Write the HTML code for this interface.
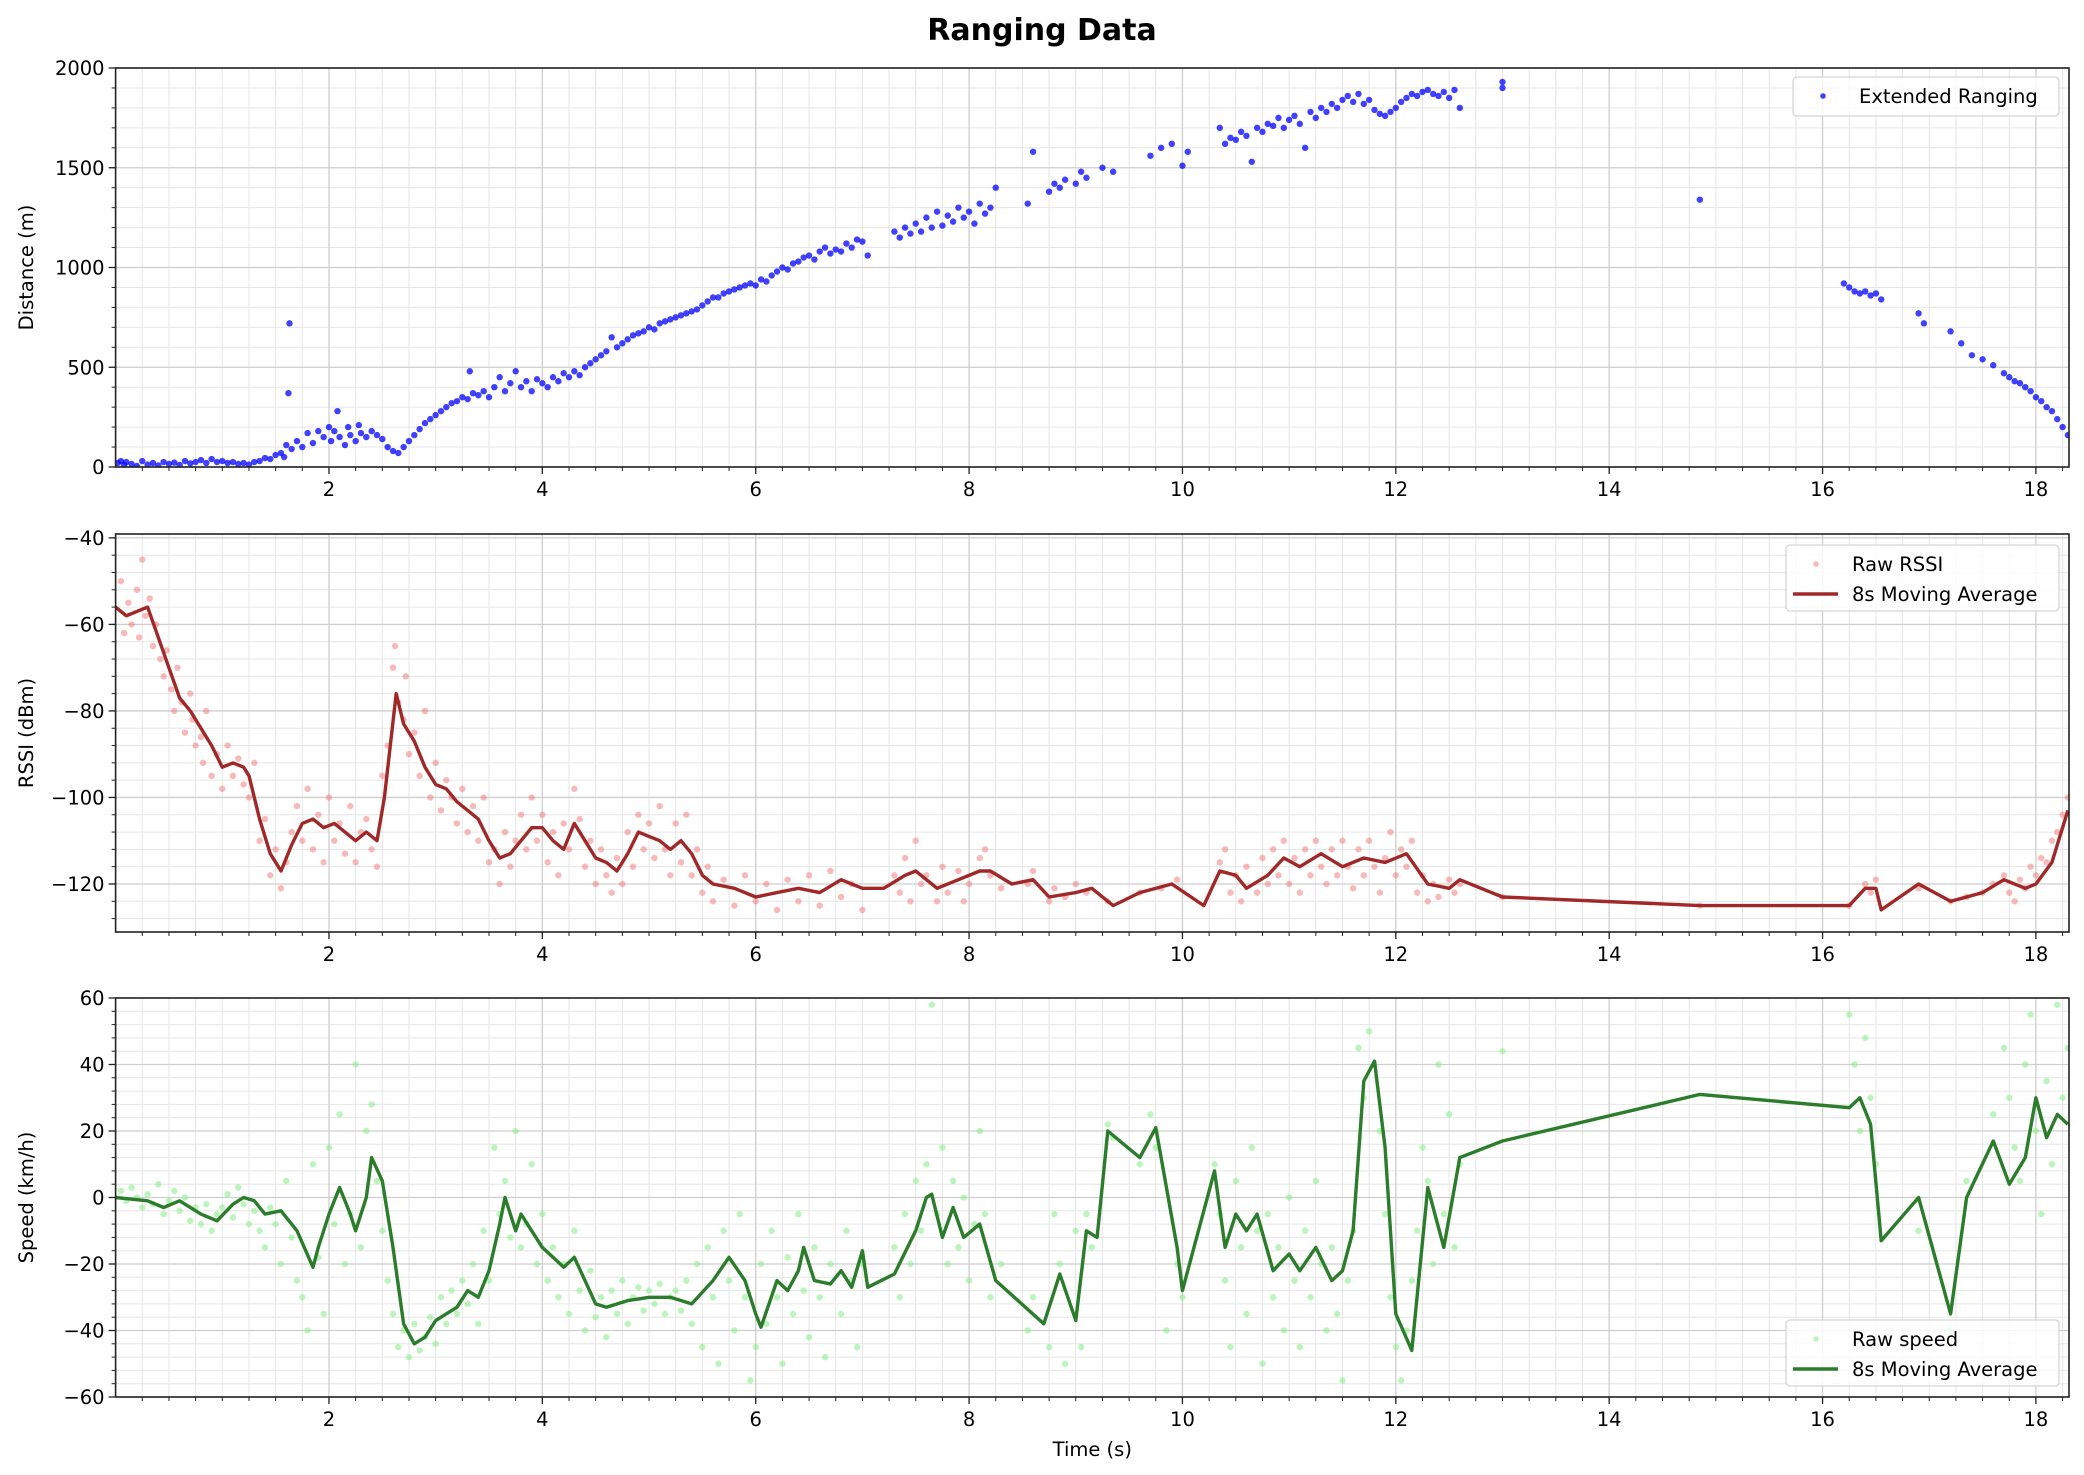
<!DOCTYPE html>
<html><head><meta charset="utf-8"><style>
html,body{margin:0;padding:0;background:#fff;}
svg{display:block;font-family:"DejaVu Sans","Liberation Sans",sans-serif;}
</style></head><body>
<svg id="fig" width="2084" height="1475" viewBox="0 0 2084 1475">
<text x="1042" y="40" text-anchor="middle" font-size="30" font-weight="bold">Ranging Data</text>
</svg>
<script>
// ---- data ----
const distT=[0.02,0.05,0.08,0.1,0.15,0.2,0.25,0.3,0.35,0.4,0.45,0.5,0.55,0.6,0.65,0.7,0.75,0.8,0.85,0.9,0.95,1.0,1.05,1.1,1.15,1.2,1.25,1.3,1.35,1.4,1.45,1.5,1.55,1.58,1.6,1.62,1.63,1.65,1.7,1.75,1.8,1.85,1.9,1.95,2.0,2.02,2.05,2.08,2.1,2.15,2.18,2.2,2.25,2.28,2.3,2.35,2.4,2.45,2.5,2.55,2.6,2.65,2.7,2.75,2.8,2.85,2.9,2.95,3.0,3.05,3.1,3.15,3.2,3.25,3.3,3.32,3.35,3.4,3.45,3.5,3.55,3.6,3.65,3.7,3.75,3.8,3.85,3.9,3.95,4.0,4.05,4.1,4.15,4.2,4.25,4.3,4.35,4.4,4.45,4.5,4.55,4.6,4.65,4.7,4.75,4.8,4.85,4.9,4.95,5.0,5.05,5.1,5.15,5.2,5.25,5.3,5.35,5.4,5.45,5.5,5.55,5.6,5.65,5.7,5.75,5.8,5.85,5.9,5.95,6.0,6.05,6.1,6.15,6.2,6.25,6.3,6.35,6.4,6.45,6.5,6.55,6.6,6.65,6.7,6.75,6.8,6.85,6.9,6.95,7.0,7.05,7.3,7.35,7.4,7.45,7.5,7.55,7.6,7.65,7.7,7.75,7.8,7.85,7.9,7.95,8.0,8.05,8.1,8.15,8.2,8.25,8.55,8.6,8.75,8.8,8.85,8.9,9.0,9.05,9.1,9.25,9.35,9.7,9.8,9.9,10.0,10.05,10.35,10.4,10.45,10.5,10.55,10.6,10.65,10.7,10.75,10.8,10.85,10.9,10.95,11.0,11.05,11.1,11.15,11.2,11.25,11.3,11.35,11.4,11.45,11.5,11.55,11.6,11.65,11.7,11.75,11.8,11.85,11.9,11.95,12.0,12.05,12.1,12.15,12.2,12.25,12.3,12.35,12.4,12.45,12.5,12.55,12.6,13.0,13.0,14.85,16.2,16.25,16.3,16.35,16.4,16.45,16.5,16.55,16.9,16.95,17.2,17.3,17.4,17.5,17.6,17.7,17.75,17.8,17.85,17.9,17.95,18.0,18.05,18.1,18.15,18.2,18.25,18.3];
const distV=[20,30,10,25,15,5,30,12,20,8,25,15,22,10,30,18,25,35,20,40,25,30,20,25,15,20,12,25,30,45,40,60,70,50,110,370,720,90,130,100,170,120,180,150,200,130,180,280,150,110,200,160,130,210,170,150,180,160,140,100,80,70,100,130,160,190,220,240,260,280,300,320,330,350,340,480,370,360,380,350,400,450,380,420,480,400,430,380,440,420,400,450,430,470,450,480,460,500,520,540,560,580,650,600,620,640,660,670,680,700,690,720,730,740,750,760,770,780,790,810,830,850,850,870,880,890,900,910,920,910,940,930,960,980,1000,990,1020,1030,1050,1060,1040,1080,1100,1070,1090,1080,1120,1100,1140,1130,1060,1180,1150,1200,1170,1220,1180,1250,1200,1280,1210,1260,1230,1300,1250,1280,1220,1320,1270,1300,1400,1320,1580,1380,1420,1400,1440,1420,1480,1450,1500,1480,1560,1600,1620,1510,1580,1700,1620,1650,1640,1680,1660,1530,1700,1680,1720,1710,1750,1700,1740,1760,1720,1600,1780,1750,1800,1780,1820,1800,1840,1860,1830,1870,1820,1840,1790,1770,1760,1780,1800,1830,1850,1870,1860,1880,1890,1870,1860,1880,1850,1890,1800,1900,1930,1340,920,900,880,870,880,860,870,840,770,720,680,620,560,540,510,470,450,430,420,400,380,350,330,300,280,240,200,160];

const rssiT=[0.05,0.08,0.12,0.15,0.2,0.22,0.25,0.28,0.32,0.35,0.38,0.42,0.45,0.48,0.52,0.55,0.58,0.62,0.65,0.7,0.72,0.75,0.8,0.82,0.85,0.9,0.95,1.0,1.05,1.1,1.15,1.2,1.25,1.3,1.35,1.4,1.45,1.5,1.55,1.6,1.65,1.7,1.75,1.8,1.85,1.9,1.95,2.0,2.05,2.1,2.15,2.2,2.25,2.3,2.35,2.4,2.45,2.5,2.55,2.6,2.62,2.65,2.7,2.72,2.75,2.8,2.85,2.9,2.95,3.0,3.05,3.1,3.15,3.2,3.25,3.3,3.35,3.4,3.45,3.5,3.55,3.6,3.65,3.7,3.75,3.8,3.85,3.9,3.95,4.0,4.05,4.1,4.15,4.2,4.25,4.3,4.35,4.4,4.45,4.5,4.55,4.6,4.65,4.7,4.75,4.8,4.85,4.9,4.95,5.0,5.05,5.1,5.15,5.2,5.25,5.3,5.35,5.4,5.45,5.5,5.55,5.6,5.7,5.8,5.9,6.0,6.1,6.2,6.3,6.4,6.5,6.6,6.7,6.8,6.9,7.0,7.3,7.35,7.4,7.45,7.5,7.55,7.6,7.7,7.75,7.8,7.9,7.95,8.0,8.1,8.15,8.2,8.3,8.55,8.6,8.75,8.8,8.9,9.0,9.1,9.3,9.6,9.8,9.95,10.35,10.4,10.45,10.5,10.55,10.6,10.7,10.75,10.8,10.85,10.9,10.95,11.0,11.05,11.1,11.15,11.2,11.25,11.3,11.35,11.4,11.45,11.5,11.55,11.6,11.65,11.7,11.75,11.8,11.85,11.9,11.95,12.0,12.05,12.1,12.15,12.2,12.25,12.3,12.35,12.4,12.5,12.55,12.6,13.0,14.85,16.25,16.4,16.45,16.5,16.9,17.2,17.35,17.5,17.6,17.7,17.75,17.8,17.85,17.9,17.95,18.0,18.05,18.1,18.15,18.2,18.25,18.3];
const rssiV=[-50,-62,-55,-60,-52,-63,-45,-58,-54,-65,-60,-68,-72,-66,-75,-80,-70,-78,-85,-76,-82,-88,-86,-92,-80,-95,-90,-98,-88,-95,-91,-97,-100,-92,-110,-105,-118,-112,-121,-115,-108,-102,-110,-98,-112,-104,-115,-100,-110,-106,-113,-102,-115,-108,-105,-112,-116,-95,-88,-70,-65,-78,-82,-72,-90,-85,-95,-80,-100,-92,-103,-96,-100,-106,-98,-108,-102,-110,-100,-115,-112,-120,-108,-116,-110,-104,-112,-100,-110,-104,-115,-108,-118,-106,-112,-98,-105,-116,-110,-120,-112,-118,-122,-114,-120,-108,-116,-104,-112,-106,-114,-102,-112,-118,-106,-115,-104,-118,-112,-122,-116,-124,-119,-125,-118,-124,-120,-126,-119,-124,-118,-125,-117,-123,-120,-126,-118,-122,-114,-124,-110,-120,-118,-124,-116,-122,-117,-124,-120,-114,-112,-118,-121,-120,-117,-124,-121,-123,-120,-122,-124,-122,-121,-119,-115,-112,-122,-118,-124,-116,-122,-114,-120,-112,-118,-110,-120,-114,-122,-112,-118,-110,-116,-120,-112,-118,-110,-116,-121,-112,-118,-110,-116,-122,-114,-108,-118,-112,-116,-110,-122,-118,-124,-120,-123,-119,-122,-120,-123,-125,-125,-120,-122,-119,-121,-124,-123,-122,-120,-118,-122,-124,-119,-121,-116,-118,-114,-115,-110,-108,-104,-100];
const rssiMaT=[0,0.1,0.2,0.3,0.4,0.5,0.6,0.7,0.8,0.9,1.0,1.1,1.2,1.25,1.35,1.45,1.55,1.65,1.75,1.85,1.95,2.05,2.15,2.25,2.35,2.45,2.52,2.63,2.7,2.8,2.9,3.0,3.1,3.2,3.3,3.4,3.5,3.6,3.7,3.8,3.9,4.0,4.1,4.2,4.3,4.4,4.5,4.6,4.7,4.8,4.9,5.0,5.1,5.2,5.3,5.4,5.5,5.6,5.8,6.0,6.2,6.4,6.6,6.8,7.0,7.2,7.4,7.5,7.7,7.9,8.1,8.2,8.4,8.6,8.75,9.0,9.15,9.35,9.6,9.9,10.2,10.35,10.5,10.6,10.8,10.95,11.1,11.3,11.5,11.7,11.9,12.1,12.3,12.5,12.6,13.0,14.85,16.25,16.4,16.5,16.55,16.9,17.2,17.5,17.7,17.9,18.0,18.15,18.3];
const rssiMaV=[-56,-58,-57,-56,-63,-70,-77,-80,-84,-88,-93,-92,-93,-95,-105,-113,-117,-111,-106,-105,-107,-106,-108,-110,-108,-110,-100,-76,-83,-87,-93,-97,-98,-101,-103,-105,-110,-114,-113,-110,-107,-107,-110,-112,-106,-110,-114,-115,-117,-113,-108,-109,-110,-112,-110,-113,-118,-120,-121,-123,-122,-121,-122,-119,-121,-121,-118,-117,-121,-119,-117,-117,-120,-119,-123,-122,-121,-125,-122,-120,-125,-117,-118,-121,-118,-114,-116,-113,-116,-114,-115,-113,-120,-121,-119,-123,-125,-125,-121,-121,-126,-120,-124,-122,-119,-121,-120,-115,-103];

const spdT=[0.05,0.1,0.15,0.2,0.25,0.3,0.35,0.4,0.45,0.5,0.55,0.6,0.65,0.7,0.75,0.8,0.85,0.9,0.95,1.0,1.05,1.1,1.15,1.2,1.25,1.3,1.35,1.4,1.45,1.5,1.55,1.6,1.65,1.7,1.75,1.8,1.85,1.9,1.95,2.0,2.05,2.1,2.15,2.2,2.25,2.3,2.35,2.4,2.45,2.5,2.55,2.6,2.65,2.7,2.75,2.8,2.85,2.9,2.95,3.0,3.05,3.1,3.15,3.2,3.25,3.3,3.35,3.4,3.45,3.5,3.55,3.6,3.65,3.7,3.75,3.8,3.85,3.9,3.95,4.0,4.05,4.1,4.15,4.2,4.25,4.3,4.35,4.4,4.45,4.5,4.55,4.6,4.65,4.7,4.75,4.8,4.85,4.9,4.95,5.0,5.05,5.1,5.15,5.2,5.25,5.3,5.35,5.4,5.45,5.5,5.55,5.6,5.65,5.7,5.75,5.8,5.85,5.9,5.95,6.0,6.05,6.1,6.15,6.2,6.25,6.3,6.35,6.4,6.45,6.5,6.55,6.6,6.65,6.7,6.8,6.85,6.9,6.95,7.0,7.3,7.35,7.4,7.45,7.5,7.55,7.6,7.65,7.7,7.75,7.8,7.85,7.9,7.95,8.0,8.05,8.1,8.15,8.2,8.3,8.55,8.6,8.75,8.8,8.85,8.9,9.0,9.05,9.1,9.15,9.3,9.35,9.6,9.7,9.75,9.85,9.95,10.0,10.3,10.35,10.4,10.45,10.5,10.55,10.6,10.65,10.7,10.75,10.8,10.85,10.9,10.95,11.0,11.05,11.1,11.15,11.2,11.25,11.3,11.35,11.4,11.45,11.5,11.55,11.6,11.65,11.7,11.75,11.8,11.85,11.9,11.95,12.0,12.05,12.1,12.15,12.2,12.25,12.3,12.35,12.4,12.45,12.5,12.55,12.6,13.0,16.25,16.3,16.35,16.4,16.45,16.5,16.9,17.2,17.35,17.6,17.7,17.75,17.8,17.85,17.9,17.95,18.0,18.05,18.1,18.15,18.2,18.25,18.3];
const spdV=[2,-1,3,0,-3,1,-2,4,-5,-1,2,-4,0,-7,-3,-8,-2,-10,-5,-3,1,-6,3,-2,-8,-4,-10,-15,-3,-8,-20,5,-12,-25,-30,-40,10,-18,-35,15,-8,25,-20,-5,40,-15,20,28,5,-10,-25,-35,-45,-40,-48,-38,-46,-42,-36,-44,-30,-38,-28,-35,-25,-32,-20,-38,-10,-25,15,-5,5,-12,20,-15,-8,10,-20,-5,-25,-15,-30,-20,-35,-10,-28,-40,-22,-36,-30,-42,-28,-35,-25,-38,-30,-27,-34,-28,-32,-26,-35,-30,-28,-34,-25,-38,-20,-45,-15,-30,-50,-10,-25,-40,-5,-30,-55,-45,-20,-38,-10,-30,-50,-18,-35,-5,-28,-42,-15,-30,-48,-20,-35,-10,-25,-45,-20,-15,-30,-5,-20,5,-10,10,58,-5,15,-20,5,-15,0,-25,-8,20,-5,-30,-20,-40,-30,-45,-5,-20,-50,-10,-45,-5,-15,22,18,10,25,15,-40,-20,-30,10,-5,-25,-45,5,-15,-35,15,-10,-50,-5,-30,-15,-40,0,-25,-45,-10,-30,5,-20,-40,-15,-35,-55,-25,-10,45,30,50,40,20,-5,-30,-45,-55,-40,-25,-10,15,5,-20,40,-5,25,-15,10,44,55,40,20,48,30,10,-10,-40,5,25,45,30,15,5,40,55,20,-5,35,10,58,30,45];
const spdMaT=[0,0.3,0.45,0.6,0.8,0.95,1.1,1.2,1.3,1.4,1.55,1.7,1.85,1.9,2.0,2.1,2.2,2.25,2.35,2.4,2.5,2.6,2.7,2.8,2.9,3.0,3.2,3.3,3.4,3.5,3.6,3.65,3.75,3.8,3.9,4.0,4.1,4.2,4.3,4.4,4.5,4.6,4.8,5.0,5.2,5.4,5.6,5.75,5.9,6.0,6.05,6.2,6.3,6.4,6.45,6.55,6.7,6.8,6.9,7.0,7.05,7.3,7.5,7.6,7.65,7.75,7.85,7.95,8.1,8.25,8.7,8.85,9.0,9.1,9.2,9.3,9.6,9.75,9.95,10.0,10.3,10.4,10.5,10.6,10.7,10.85,11.0,11.1,11.25,11.4,11.5,11.6,11.7,11.8,11.9,12.0,12.15,12.3,12.45,12.6,13.0,14.85,16.25,16.35,16.45,16.55,16.9,17.2,17.35,17.6,17.75,17.9,18.0,18.1,18.2,18.3];
const spdMaV=[0,-1,-3,-1,-5,-7,-2,0,-1,-5,-4,-10,-21,-15,-5,3,-5,-10,0,12,5,-15,-38,-44,-42,-37,-33,-28,-30,-22,-8,0,-10,-5,-10,-15,-18,-21,-18,-25,-32,-33,-31,-30,-30,-32,-25,-18,-25,-35,-39,-25,-28,-22,-15,-25,-26,-22,-27,-16,-27,-23,-10,0,1,-12,-3,-12,-8,-25,-38,-23,-37,-10,-12,20,12,21,-15,-28,8,-15,-5,-10,-5,-22,-17,-22,-15,-25,-22,-10,35,41,15,-35,-46,3,-15,12,17,31,27,30,22,-13,0,-35,0,17,4,12,30,18,25,22];

const xTicks=[2,4,6,8,10,12,14,16,18];
const distTicks=[0,500,1000,1500,2000];
const rssiTicks=[-40,-60,-80,-100,-120];
const spdTicks=[-60,-40,-20,0,20,40,60];

// ---- layout ----
const NS='http://www.w3.org/2000/svg';
const svg=document.getElementById('fig');
const L=115.6,R=2069,TMAX=18.31;
const sx=t=>L+(t/TMAX)*(R-L);
const fmt=v=>v<0?'\u2212'+Math.abs(v):String(v);
function mk(tag,attrs,parent){const e=document.createElementNS(NS,tag);for(const k in attrs)e.setAttribute(k,attrs[k]);(parent||svg).appendChild(e);return e;}

function panel(name,top,bot,ymin,ymax,ticks,minorStep,label,showXLabel){
  const g=mk('g',{});
  
  
  const sy=v=>bot-(v-ymin)/(ymax-ymin)*(bot-top);
  for(let t=0.25;t<TMAX;t+=0.25){const x=sx(t);mk('line',{x1:x,x2:x,y1:top,y2:bot,stroke:'#e6e6e6','stroke-width':1},g);}
  const y0=Math.ceil(ymin/minorStep)*minorStep;
  for(let v=y0;v<=ymax;v+=minorStep){const y=sy(v);mk('line',{x1:L,x2:R,y1:y,y2:y,stroke:'#e6e6e6','stroke-width':1},g);}
  xTicks.forEach(t=>{const x=sx(t);mk('line',{x1:x,x2:x,y1:top,y2:bot,stroke:'#cfcfcf','stroke-width':1.3},g);});
  ticks.forEach(v=>{const y=sy(v);mk('line',{x1:L,x2:R,y1:y,y2:y,stroke:'#cfcfcf','stroke-width':1.3},g);});
  for(let t=0.25;t<TMAX;t+=0.25){const x=sx(t);mk('line',{x1:x,x2:x,y1:bot,y2:bot+4,stroke:'#222','stroke-width':1},g);}
  for(let v=y0;v<=ymax;v+=minorStep){const y=sy(v);mk('line',{x1:L-4,x2:L,y1:y,y2:y,stroke:'#222','stroke-width':1},g);}
  xTicks.forEach(t=>{const x=sx(t);mk('line',{x1:x,x2:x,y1:bot,y2:bot+7,stroke:'#222','stroke-width':1.3},g);
    const tx=mk('text',{x:x,y:bot+29,'text-anchor':'middle','font-size':19.5,fill:'#000'},g);tx.textContent=t;
    
    });
  ticks.forEach(v=>{const y=sy(v);mk('line',{x1:L-7,x2:L,y1:y,y2:y,stroke:'#222','stroke-width':1.3},g);
    const tx=mk('text',{x:L-11,y:y+7,'text-anchor':'end','font-size':19.5,fill:'#000'},g);tx.textContent=fmt(v);
    
    });
  const yl=mk('text',{x:0,y:0,'text-anchor':'middle','font-size':19.5,transform:`translate(33,${(top+bot)/2}) rotate(-90)`},g);
  yl.textContent=label;
  
  
  if(showXLabel){const xl=mk('text',{x:(L+R)/2,y:1456,'text-anchor':'middle','font-size':19.5},g);xl.textContent='Time (s)';
    
    }
  const clip=mk('clipPath',{id:'clip-'+name},g);mk('rect',{x:L,y:top,width:R-L,height:bot-top},clip);
  const data=mk('g',{'clip-path':`url(#clip-${name})`},g);
  return {g,data,sy,top,bot};
}
function scatter(p,ts,vs,color,op,r,nm){
  ts.forEach((t,i)=>{const c=mk('circle',{cx:sx(t),cy:p.sy(vs[i]),r:r,fill:color,'fill-opacity':op},p.data);
    
    });
}
function line(p,ts,vs,color,nm){
  const d=ts.map((t,i)=>(i?'L':'M')+sx(t).toFixed(1)+','+p.sy(vs[i]).toFixed(1)).join(' ');
  const e=mk('path',{d:d,fill:'none',stroke:color,'stroke-width':3.4,'stroke-linejoin':'round'},p.data);
  
  
}
function frame(p){mk('rect',{x:L,y:p.top,width:R-L,height:p.bot-p.top,fill:'none',stroke:'#222','stroke-width':1.6},p.g);}
function legend(p,x,y,w,h,items,nm){
  const lg=mk('g',{},p.g);
  
  
  mk('rect',{x:x,y:y,width:w,height:h,rx:4,fill:'#fff','fill-opacity':0.8,stroke:'#d5d5d5','stroke-width':1.3},lg);
  items.forEach((it,i)=>{const cy=y+19+i*30;
    if(it.type==='dot'){mk('circle',{cx:x+30,cy:cy,r:2.8,fill:it.color,'fill-opacity':it.op},lg);}
    else{mk('line',{x1:x+7,x2:x+52,y1:cy,y2:cy,stroke:it.color,'stroke-width':3.4},lg);}
    const t=mk('text',{x:x+66,y:cy+7,'font-size':19.5},lg);t.textContent=it.label;
    
    });
}

const p1=panel('distance',68,467,0,2000,distTicks,100,'Distance (m)',false);
scatter(p1,distT,distV,'#0000ff',0.75,3.2,'distance-point');
frame(p1);
legend(p1,1793,77,266,39,[{type:'dot',color:'#0000ff',op:0.75,label:'Extended Ranging'}],'distance-legend');

const p2=panel('rssi',534,932,-131.1,-39.1,rssiTicks,4,'RSSI (dBm)',false);
scatter(p2,rssiT,rssiV,'#f08080',0.55,3.2,'rssi-raw-point');
line(p2,rssiMaT,rssiMaV,'#a02828','rssi-moving-average');
frame(p2);
legend(p2,1786,545,273,66,[{type:'dot',color:'#f08080',op:0.55,label:'Raw RSSI'},{type:'line',color:'#a02828',label:'8s Moving Average'}],'rssi-legend');

const p3=panel('speed',998,1397,-60,60,spdTicks,4,'Speed (km/h)',true);
scatter(p3,spdT,spdV,'#90ee90',0.6,3.2,'speed-raw-point');
line(p3,spdMaT,spdMaV,'#2b7d2b','speed-moving-average');
frame(p3);
legend(p3,1786,1320,273,66,[{type:'dot',color:'#90ee90',op:0.6,label:'Raw speed'},{type:'line',color:'#2b7d2b',label:'8s Moving Average'}],'speed-legend');
</script>
</body></html>
